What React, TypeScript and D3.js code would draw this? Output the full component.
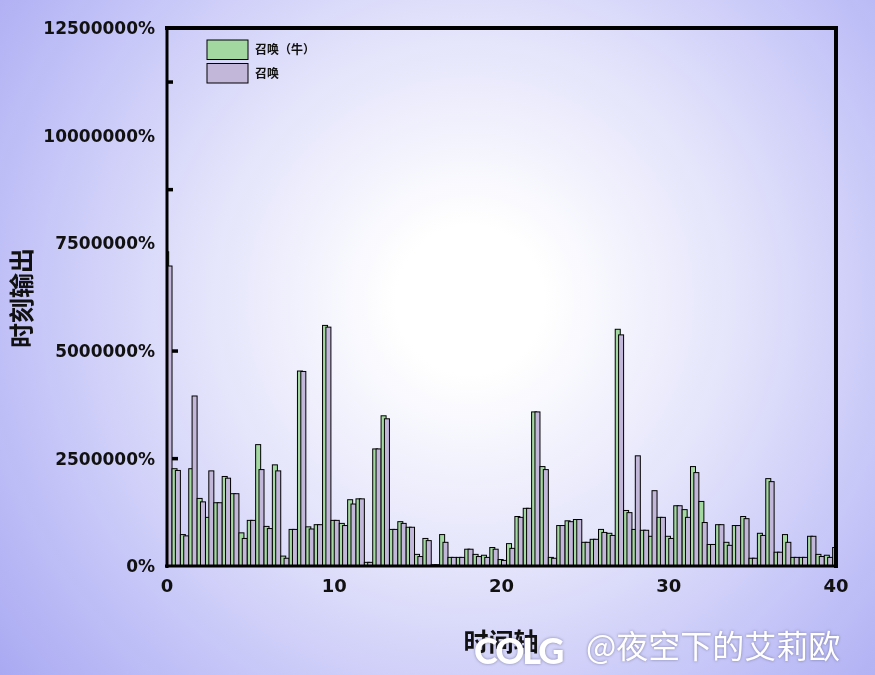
import React from "react";
import * as d3 from "d3";

// time positions (category positions on x axis)
const times: number[] = [
  0, 0.5, 1, 1.5, 2, 2.5, 3, 3.5, 4, 4.5, 5, 5.5, 6, 6.5, 7, 7.5, 8, 8.5, 9, 9.5,
  10, 10.5, 11, 11.5, 12, 12.5, 13, 13.5, 14, 14.5, 15, 15.5, 16, 16.5, 17, 17.5, 18, 18.5, 19, 19.5,
  20, 20.5, 21, 21.5, 22, 22.5, 23, 23.5, 24, 24.5, 25, 25.5, 26, 26.5, 27, 27.5, 28, 28.5, 29, 29.5,
  30, 30.5, 31, 31.5, 32, 32.5, 33, 33.5, 34, 34.5, 35, 35.5, 36, 36.5, 37, 37.5, 38, 38.5, 39, 39.5, 40,
];

// 召唤（牛） (values in millions of %)
const summonCow: number[] = [
  7.3, 2.26, 0.73, 2.26, 1.57, 1.13, 1.47, 2.08, 1.68, 0.77, 1.06, 2.82, 0.92, 2.35, 0.23, 0.85, 4.53, 0.91, 0.96, 5.59,
  1.06, 0.99, 1.54, 1.56, 0.085, 2.72, 3.49, 0.85, 1.03, 0.9, 0.27, 0.64, 0.03, 0.73, 0.2, 0.2, 0.39, 0.27, 0.25, 0.43,
  0.15, 0.52, 1.15, 1.34, 3.58, 2.31, 0.2, 0.94, 1.05, 1.08, 0.55, 0.62, 0.85, 0.76, 5.5, 1.29, 0.85, 0.83, 0.69, 1.13,
  0.69, 1.4, 1.31, 2.31, 1.5, 0.5, 0.96, 0.55, 0.94, 1.15, 0.18, 0.76, 2.03, 0.32, 0.73, 0.2, 0.2, 0.69, 0.27, 0.25, 0.43,
];

// 召唤 (values in millions of %)
const summon: number[] = [
  6.97, 2.22, 0.7, 3.95, 1.49, 2.21, 1.47, 2.04, 1.68, 0.64, 1.06, 2.24, 0.87, 2.21, 0.18, 0.85, 4.52, 0.86, 0.96, 5.55,
  1.06, 0.94, 1.44, 1.56, 0.085, 2.72, 3.42, 0.85, 0.99, 0.9, 0.22, 0.59, 0.03, 0.55, 0.2, 0.2, 0.39, 0.22, 0.2, 0.39,
  0.13, 0.41, 1.13, 1.34, 3.58, 2.24, 0.18, 0.94, 1.03, 1.08, 0.55, 0.62, 0.78, 0.71, 5.37, 1.24, 2.56, 0.83, 1.75, 1.13,
  0.64, 1.4, 1.13, 2.17, 1.01, 0.5, 0.96, 0.48, 0.94, 1.1, 0.18, 0.71, 1.96, 0.32, 0.55, 0.2, 0.2, 0.69, 0.22, 0.2, 0.41,
];

const yTicks: number[] = [0, 2.5, 5, 7.5, 10, 12.5];
const yInnerMarks: number[] = [2.5, 5, 8.75, 11.25];
const xTicks: number[] = [0, 10, 20, 30, 40];
const seriesNames: string[] = ["召唤（牛）", "召唤"];
const seriesColors: string[] = ["#a3d9a0", "#c2b6d9"];

const W = 875;
const H = 675;
const M = { left: 167, right: 836, top: 28, bottom: 566 };

export default function App() {
  const x = d3.scaleLinear().domain([0, 40]).range([M.left, M.right]);
  const y = d3.scaleLinear().domain([0, 12.5]).range([M.bottom, M.top]);
  const unit = x(0.5) - x(0);
  const barW = unit * 0.6;
  const greenOff = -unit * 0.4;

  const fmt = (v: number) => `${Math.round(v * 1e6)}%`;

  return (
    <div style={{ position: "fixed", left: 0, top: 0, width: W, height: H }}>
      <svg width={W} height={H} style={{ display: "block" }}>
        <defs>
          <radialGradient id="bg" gradientUnits="userSpaceOnUse" cx={470} cy={300} r={620}>
            <stop offset="0" stopColor="#ffffff" />
            <stop offset="0.12" stopColor="#ffffff" />
            <stop offset="0.45" stopColor="#e2e2fb" />
            <stop offset="0.72" stopColor="#c4c4f8" />
            <stop offset="1" stopColor="#a6a6f2" />
          </radialGradient>
          <clipPath id="plotClip">
            <rect x={M.left} y={M.top} width={M.right - M.left} height={M.bottom - M.top} />
          </clipPath>
        </defs>
        <rect x={0} y={0} width={W} height={H} fill="url(#bg)" />

        {/* inner marks on y axis */}
        {yInnerMarks.map((v) => (
          <rect key={"m" + v} x={M.left + 1} y={y(v) - 1.5} width={v > 6 ? 5 : 10} height={3.5} fill="#000" />
        ))}

        <g clipPath="url(#plotClip)">
          {times.map((t, i) => (
            <g key={"b" + i}>
              <rect
                x={x(t) + greenOff}
                y={y(summonCow[i])}
                width={barW}
                height={y(0) - y(summonCow[i])}
                fill={seriesColors[0]}
                stroke="#000"
                strokeWidth={1}
              />
              <rect
                x={x(t)}
                y={y(summon[i])}
                width={barW}
                height={y(0) - y(summon[i])}
                fill={seriesColors[1]}
                stroke="#000"
                strokeWidth={1}
              />
            </g>
          ))}
        </g>

        {/* frame */}
        <line x1={M.left - 2} x2={M.right + 2} y1={M.top} y2={M.top} stroke="#000" strokeWidth={4} />
        <line x1={M.right} x2={M.right} y1={M.top - 2} y2={M.bottom + 2} stroke="#000" strokeWidth={4} />
        <line x1={M.left} x2={M.left} y1={M.top - 2} y2={M.bottom + 2} stroke="#000" strokeWidth={3} />
        <line x1={M.left - 2} x2={M.right + 2} y1={M.bottom} y2={M.bottom} stroke="#000" strokeWidth={3} />

        {/* y tick labels */}
        {yTicks.map((v) => (
          <text
            key={"yt" + v}
            x={155}
            y={y(v)}
            dy="0.36em"
            textAnchor="end"
            fontFamily="DejaVu Sans"
            fontWeight="bold"
            fontSize={17}
            fill="#111"
          >
            {fmt(v)}
          </text>
        ))}

        {/* x tick labels */}
        {xTicks.map((v) => (
          <text
            key={"xt" + v}
            x={x(v)}
            y={592}
            textAnchor="middle"
            fontFamily="DejaVu Sans"
            fontWeight="bold"
            fontSize={18}
            fill="#111"
          >
            {v}
          </text>
        ))}

        {/* axis titles */}
        <text
          transform={`translate(31, 298) rotate(-90)`}
          textAnchor="middle"
          fontFamily="Noto Sans CJK SC"
          fontWeight="bold"
          fontSize={25}
          fill="#111"
        >
          时刻输出
        </text>
        <text
          x={501}
          y={651}
          textAnchor="middle"
          fontFamily="Noto Sans CJK SC"
          fontWeight="bold"
          fontSize={25}
          fill="#111"
        >
          时间轴
        </text>

        {/* legend */}
        {seriesNames.map((n, i) => (
          <g key={"lg" + i} transform={`translate(207, ${40 + i * 23.5})`}>
            <rect x={0} y={0} width={41} height={19.5} fill={seriesColors[i]} stroke="#000" strokeWidth={1} />
            <text x={48} y={10} dy="0.36em" fontFamily="Noto Sans CJK SC" fontWeight="bold" fontSize={12} fill="#111">
              {n}
            </text>
          </g>
        ))}

        {/* watermark */}
        <g fill="#ffffff" style={{ filter: "drop-shadow(0px 0px 1.5px rgba(80,80,120,0.6))" }}>
          <text x={474} y={664} fontFamily="Lato" fontWeight="900" fontSize={36} letterSpacing={-2}>
            COLG
          </text>
          <text x={586} y={658} fontFamily="Noto Sans CJK SC" fontSize={32}>
            @夜空下的艾莉欧
          </text>
        </g>
      </svg>
    </div>
  );
}
